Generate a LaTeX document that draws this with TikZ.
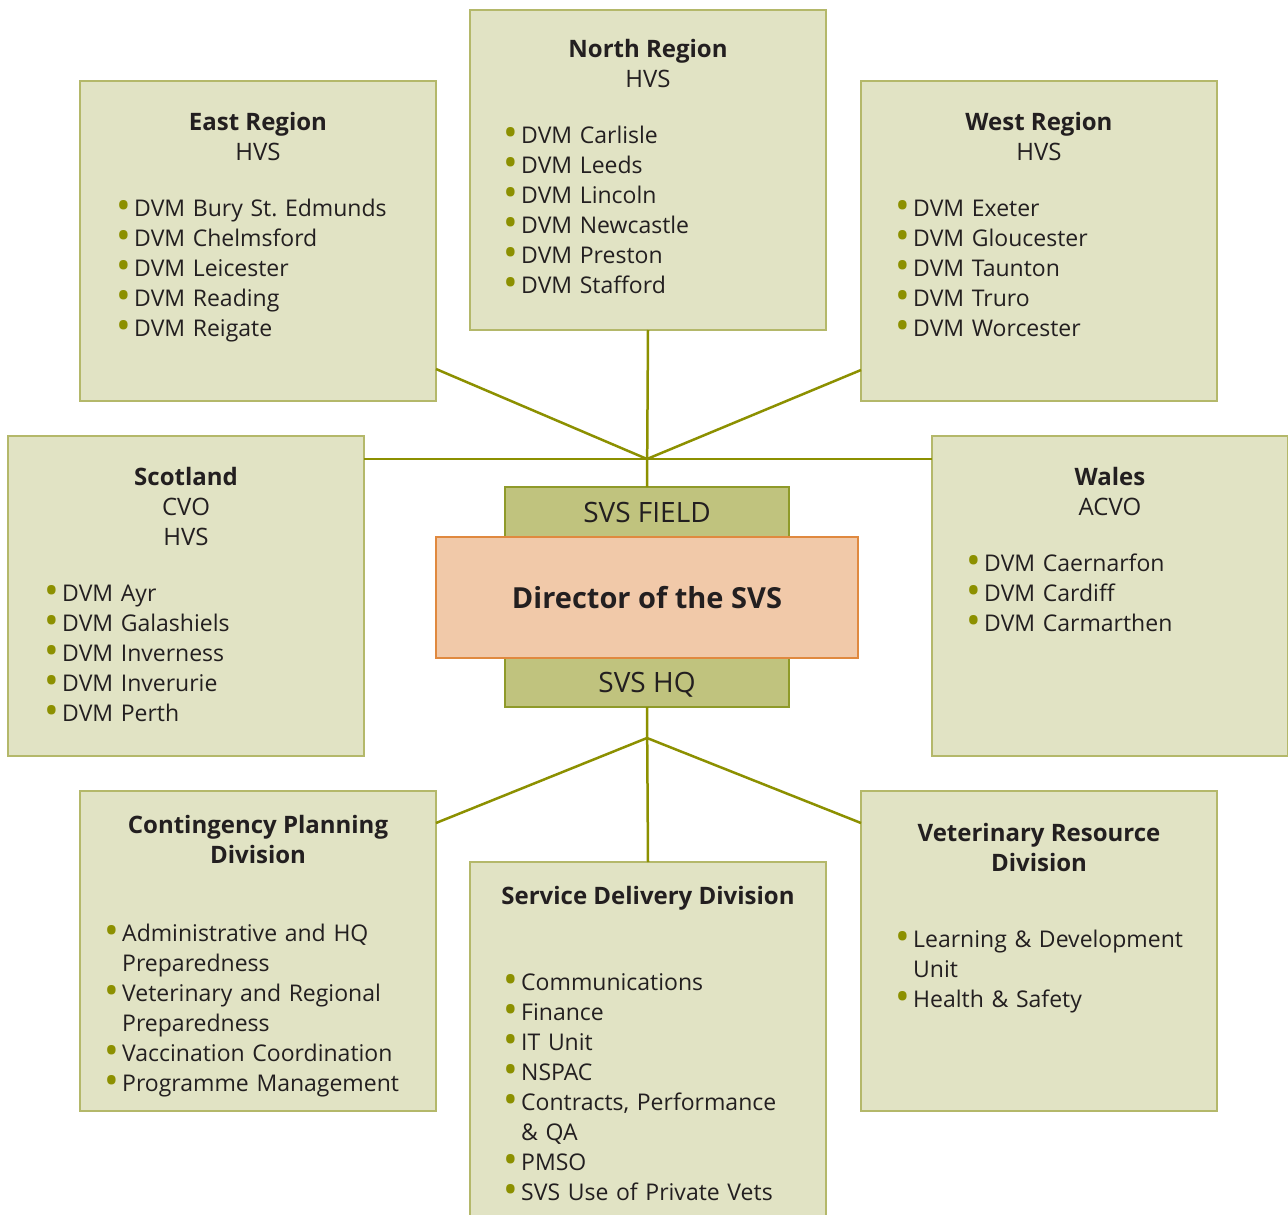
\documentclass[tikz,border=0pt]{standalone}
\usepackage{fontspec}
\setmainfont{Open Sans}
\usepackage{graphicx}
\usetikzlibrary{positioning}

\definecolor{unitfill}{HTML}{E1E3C4}
\definecolor{unitline}{HTML}{B4B86A}
\definecolor{svsolive}{HTML}{8C9000}
\definecolor{levelfill}{HTML}{C0C37E}
\definecolor{levelline}{HTML}{8F9A2A}
\definecolor{dirfill}{HTML}{F1C9A9}
\definecolor{dirline}{HTML}{E0893F}
\definecolor{svstext}{HTML}{231F20}

\frenchspacing
\newcommand{\itm}[1]{\noindent\hangindent=18pt\hangafter=1\strut\makebox[18pt][l]{\textcolor{svsolive}{\raisebox{-3pt}{\scalebox{1.7}{\textbullet}}}}#1\par}

\tikzset{unit/.style={draw=unitline, fill=unitfill, line width=1.4pt, anchor=north west,
            minimum width=356pt, minimum height=320pt, inner sep=0pt, outer sep=0pt},
         unithead/.style={font=\fontsize{24}{30}\selectfont, align=center, inner sep=0pt, text=svstext},
         unitlist/.style={font=\fontsize{23}{30}\selectfont, text width=320pt, align=left,
            inner sep=0pt, text=svstext},
         level/.style={draw=levelline, fill=levelfill, line width=1.4pt, anchor=north west,
            minimum width=284pt, minimum height=50pt, inner sep=0pt, outer sep=0pt,
            font=\fontsize{28}{30}\selectfont, text=svstext},
         director/.style={draw=dirline, fill=dirfill, line width=1.4pt, anchor=north west,
            minimum width=422pt, minimum height=121pt, inner sep=0pt, outer sep=0pt,
            font=\fontsize{29}{30}\selectfont\bfseries, text=svstext},
         link/.style={draw=svsolive, line width=2.5pt}}

\begin{document}
\begin{tikzpicture}[x=1pt,y=-1pt]
\useasboundingbox (0,0) rectangle (1288,1215);
\clip (0,0) rectangle (1288,1215);

% regions
\node[unit] (north) at (470,10) {};
\node[unit] (east) at (80,81) {};
\node[unit] (west) at (861,81) {};
\node[unit] (scotland) at (8,436) {};
\node[unit] (wales) at (932,436) {};
% divisions
\node[unit] (contingency) at (80,791) {};
\node[unit, minimum height=380pt] (service) at (470,862) {};
\node[unit] (vetres) at (861,791) {};

\node[unithead, below=26pt of north.north] (north-title) {\strut\textbf{North Region}\\HVS};
\node[unitlist, below right=112pt and 33pt of north.north west] (north-list)
  {\itm{DVM Carlisle}\itm{DVM Leeds}\itm{DVM Lincoln}\itm{DVM Newcastle}\itm{DVM Preston}\itm{DVM Stafford}};

\node[unithead, below=28pt of east.north] (east-title) {\strut\textbf{East Region}\\HVS};
\node[unitlist, below right=114pt and 36pt of east.north west] (east-list)
  {\itm{DVM Bury St. Edmunds}\itm{DVM Chelmsford}\itm{DVM Leicester}\itm{DVM Reading}\itm{DVM Reigate}};

\node[unithead, below=28pt of west.north] (west-title) {\strut\textbf{West Region}\\HVS};
\node[unitlist, below right=114pt and 34pt of west.north west] (west-list)
  {\itm{DVM Exeter}\itm{DVM Gloucester}\itm{DVM Taunton}\itm{DVM Truro}\itm{DVM Worcester}};

\node[unithead, below=28pt of scotland.north] (scotland-title) {\strut\textbf{Scotland}\\CVO\\HVS};
\node[unitlist, below right=144pt and 36pt of scotland.north west] (scotland-list)
  {\itm{DVM Ayr}\itm{DVM Galashiels}\itm{DVM Inverness}\itm{DVM Inverurie}\itm{DVM Perth}};

\node[unithead, below=28pt of wales.north] (wales-title) {\strut\textbf{Wales}\\ACVO};
\node[unitlist, below right=114pt and 34pt of wales.north west] (wales-list)
  {\itm{DVM Caernarfon}\itm{DVM Cardiff}\itm{DVM Carmarthen}};

\node[unithead, below=21pt of contingency.north] (contingency-title)
  {\strut\textbf{Contingency Planning}\\\textbf{Division}};
\node[unitlist, below right=129pt and 24pt of contingency.north west] (contingency-list)
  {\itm{Administrative and HQ\newline Preparedness}\itm{Veterinary and Regional\newline Preparedness}
   \itm{Vaccination Coordination}\itm{Programme Management}};

\node[unithead, below=21pt of service.north] (service-title) {\strut\textbf{Service Delivery Division}};
\node[unitlist, below right=107pt and 33pt of service.north west] (service-list)
  {\itm{Communications}\itm{Finance}\itm{IT Unit}\itm{NSPAC}\itm{Contracts, Performance\newline \& QA}
   \itm{PMSO}\itm{SVS Use of Private Vets}};

\node[unithead, below=29pt of vetres.north] (vetres-title)
  {\strut\textbf{Veterinary Resource}\\\textbf{Division}};
\node[unitlist, below right=135pt and 34pt of vetres.north west] (vetres-list)
  {\itm{Learning \& Development\newline Unit}\itm{Health \& Safety}};

% centre
\node[level] (field) at (505,487) {SVS FIELD};
\node[level, minimum height=49pt, text depth=0pt] (hq) at (505,658) {SVS HQ};
\node[director] (dir) at (436,537) {Director of the SVS};

\coordinate (hubN) at (647,459);
\coordinate (hubS) at (647,738);

\draw[link] (north.south) -- (field.north);
\draw[link] (hubN -| scotland.east) -- (hubN -| wales.west);
\draw[link] ([yshift=32pt]east.south east) -- (hubN);
\draw[link] ([yshift=31pt]west.south west) -- (hubN);
\draw[link] (hq.south) -- (service.north);
\draw[link] ([yshift=-32pt]contingency.north east) -- (hubS);
\draw[link] ([yshift=-32pt]vetres.north west) -- (hubS);
\end{tikzpicture}
\end{document}
